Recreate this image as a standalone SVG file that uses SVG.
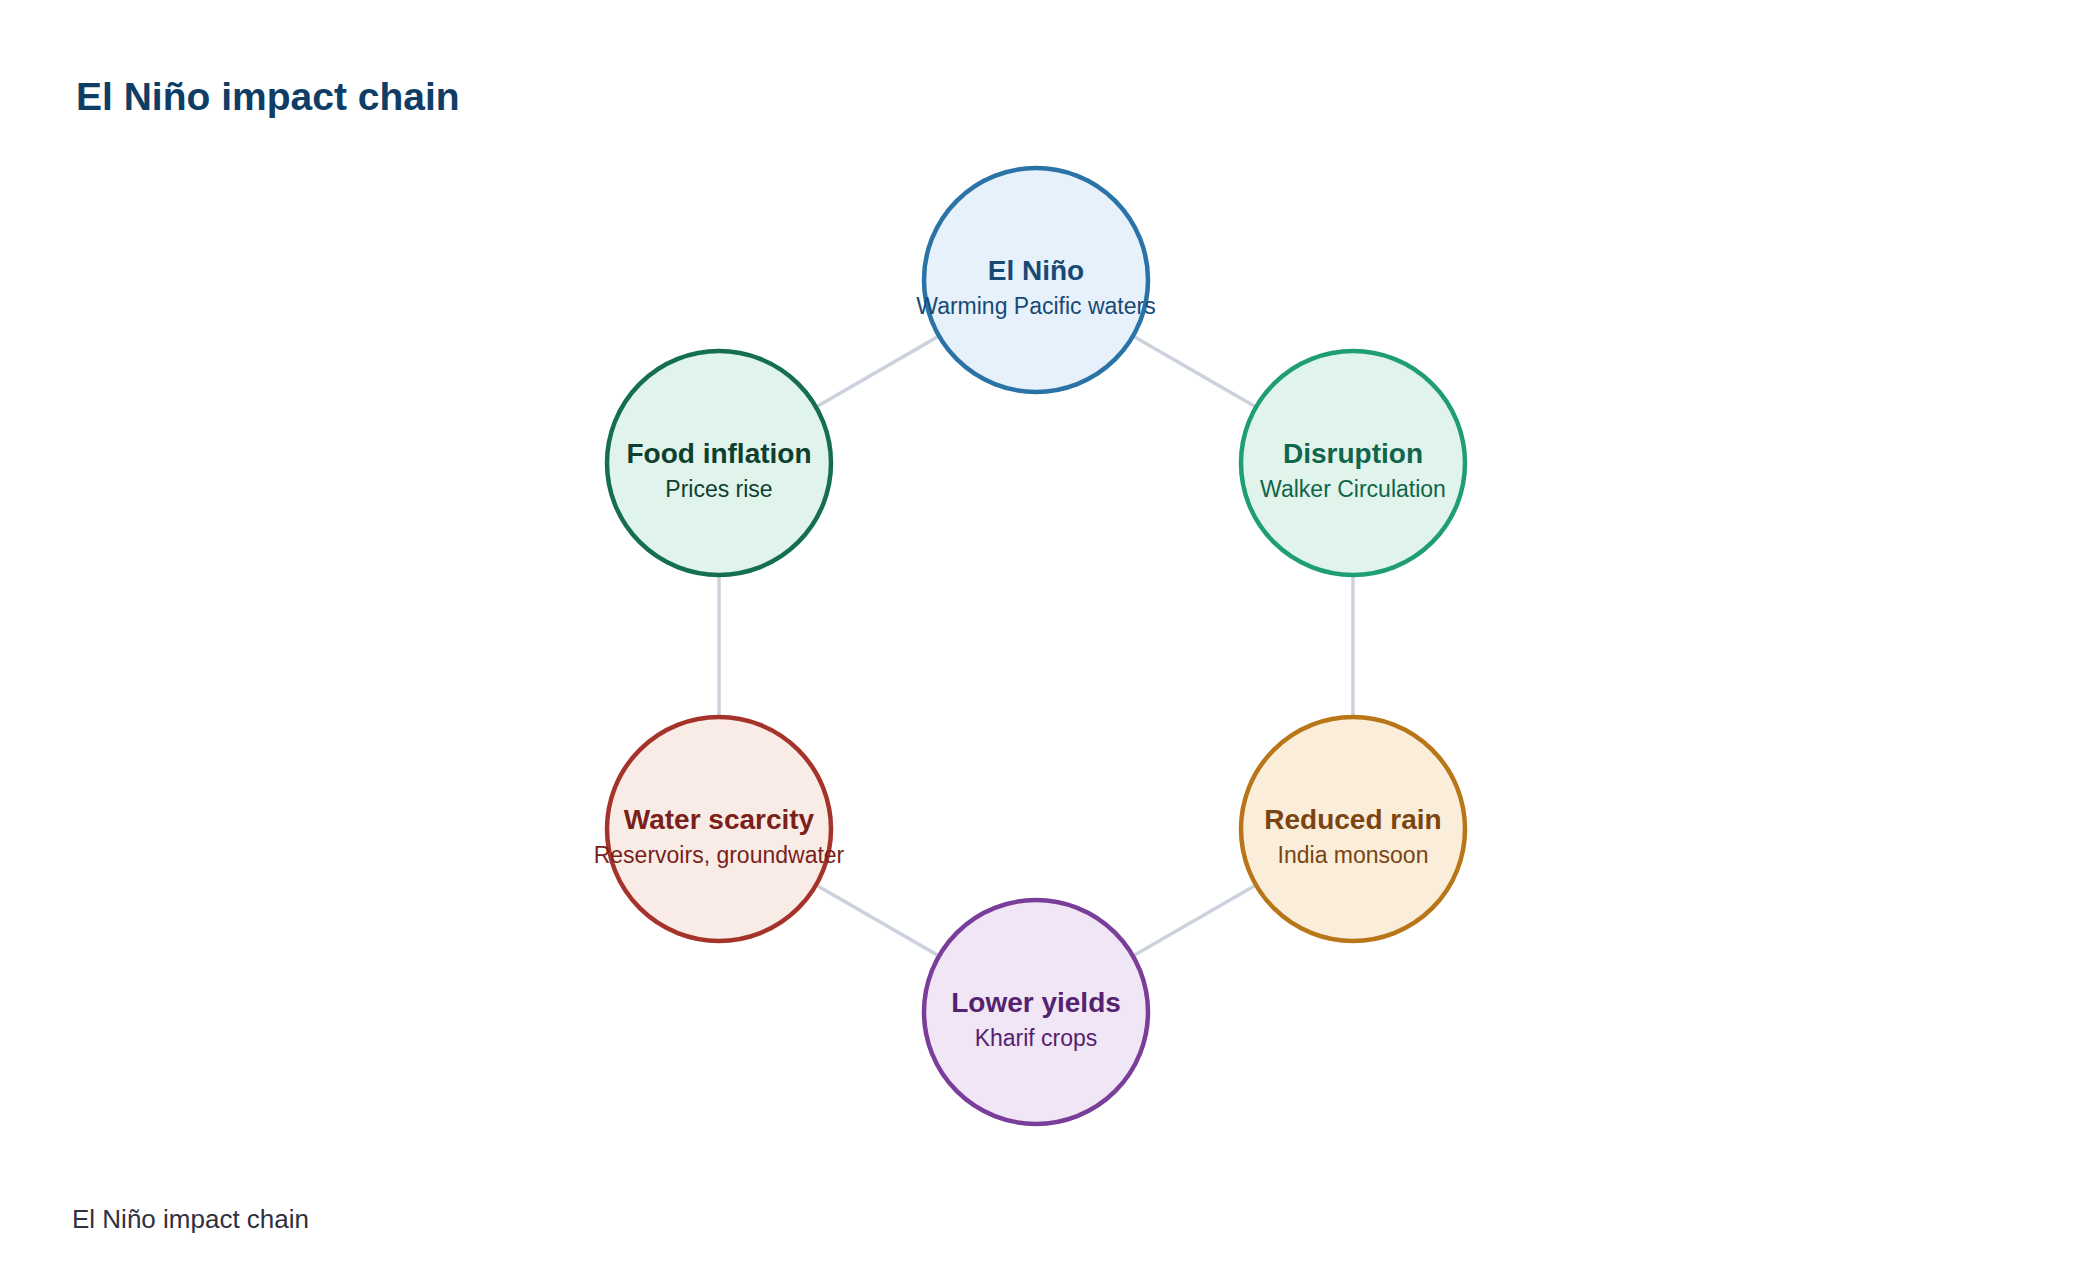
<svg xmlns="http://www.w3.org/2000/svg" width="2080" height="1284" viewBox="0 0 2080 1284">
<style>
text{font-family:"Liberation Sans",Arial,sans-serif;}
.t{font-size:28px;font-weight:bold;text-anchor:middle;}
.s{font-size:23px;text-anchor:middle;}
.c{stroke-width:4.5;}
.edge{stroke:#CBD2DD;stroke-width:3.5;fill:none;}
</style>
<rect width="2080" height="1284" fill="#FFFFFF"/>
<text x="76" y="110" font-size="39" font-weight="bold" fill="#0F3D66">El Niño impact chain</text>
<g id="connectors">
<line class="edge" x1="1036" y1="280" x2="1353" y2="463"/>
<line class="edge" x1="1353" y1="463" x2="1353" y2="829"/>
<line class="edge" x1="1353" y1="829" x2="1036" y2="1012"/>
<line class="edge" x1="1036" y1="1012" x2="719" y2="829"/>
<line class="edge" x1="719" y1="829" x2="719" y2="463"/>
<line class="edge" x1="719" y1="463" x2="1036" y2="280"/>
</g>
<g id="node-elnino">
<circle class="c" cx="1036" cy="280" r="112" fill="#E7F1FB" stroke="#2A73A6"/>
<text class="t" x="1036" y="280" fill="#174A75">El Niño</text>
<text class="s" x="1036" y="314" fill="#174A75">Warming Pacific waters</text>
</g>
<g id="node-disruption">
<circle class="c" cx="1353" cy="463" r="112" fill="#E1F4EC" stroke="#1F9E74"/>
<text class="t" x="1353" y="463" fill="#10654A">Disruption</text>
<text class="s" x="1353" y="497" fill="#10654A">Walker Circulation</text>
</g>
<g id="node-reduced-rain">
<circle class="c" cx="1353" cy="829" r="112" fill="#FAEDDA" stroke="#B97619"/>
<text class="t" x="1353" y="829" fill="#7A4510">Reduced rain</text>
<text class="s" x="1353" y="863" fill="#7A4510">India monsoon</text>
</g>
<g id="node-lower-yields">
<circle class="c" cx="1036" cy="1012" r="112" fill="#F0E6F5" stroke="#7A3D99"/>
<text class="t" x="1036" y="1012" fill="#55226F">Lower yields</text>
<text class="s" x="1036" y="1046" fill="#55226F">Kharif crops</text>
</g>
<g id="node-water-scarcity">
<circle class="c" cx="719" cy="829" r="112" fill="#F9ECE7" stroke="#A6332A"/>
<text class="t" x="719" y="829" fill="#7A1F19">Water scarcity</text>
<text class="s" x="719" y="863" fill="#7A1F19">Reservoirs, groundwater</text>
</g>
<g id="node-food-inflation">
<circle class="c" cx="719" cy="463" r="112" fill="#E1F4EC" stroke="#156E50"/>
<text class="t" x="719" y="463" fill="#0E3F2F">Food inflation</text>
<text class="s" x="719" y="497" fill="#0E3F2F">Prices rise</text>
</g>
<text x="72" y="1228" font-size="26" fill="#30303F">El Niño impact chain</text>
</svg>
